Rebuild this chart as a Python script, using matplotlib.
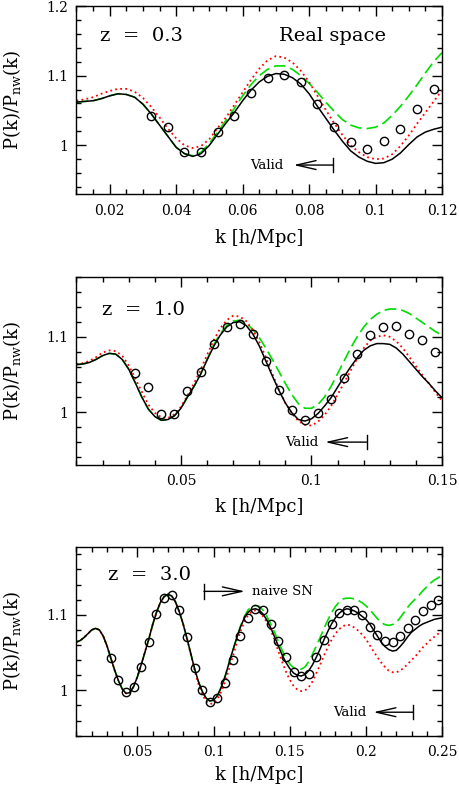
import numpy as np
import matplotlib
matplotlib.use('Agg')
import matplotlib.pyplot as plt
from matplotlib.ticker import MultipleLocator, FuncFormatter

plt.rcParams['font.family'] = ['DejaVu Serif']
plt.rcParams['mathtext.fontset'] = 'dejavuserif'

# --- panel 1: z = 0.3 (real space), curves read every 0.0025 in k ---
k_top = np.arange(0.01, 0.12001, 0.0025)
black_top = [1.062, 1.063, 1.064, 1.067, 1.071, 1.074, 1.073, 1.069,
             1.059, 1.045, 1.029, 1.013, 0.997, 0.988, 0.984, 0.988,
             1.000, 1.016, 1.032, 1.047, 1.064, 1.079, 1.091, 1.099,
             1.103, 1.102, 1.097, 1.088, 1.074, 1.056, 1.039, 1.022,
             1.006, 0.992, 0.983, 0.977, 0.974, 0.975, 0.980, 0.989,
             1.001, 1.012, 1.019, 1.023, 1.026]
red_top = [1.064, 1.066, 1.069, 1.074, 1.078, 1.081, 1.081, 1.077,
           1.068, 1.055, 1.040, 1.024, 1.010, 1.000, 0.996, 0.999,
           1.009, 1.025, 1.040, 1.058, 1.076, 1.094, 1.110, 1.122,
           1.128, 1.126, 1.119, 1.107, 1.091, 1.071, 1.051, 1.032,
           1.015, 1.000, 0.990, 0.983, 0.980, 0.981, 0.987, 0.999,
           1.014, 1.031, 1.047, 1.063, 1.079]
green_top = [1.062, 1.063, 1.064, 1.067, 1.071, 1.074, 1.073, 1.069,
             1.059, 1.045, 1.029, 1.013, 0.997, 0.988, 0.985, 0.990,
             1.003, 1.019, 1.036, 1.053, 1.071, 1.087, 1.100, 1.109,
             1.114, 1.114, 1.109, 1.100, 1.089, 1.076, 1.062, 1.049,
             1.037, 1.029, 1.025, 1.024, 1.026, 1.032, 1.043, 1.056,
             1.071, 1.087, 1.104, 1.120, 1.133]
kc_top = np.arange(0.0325, 0.1176, 0.005)
circ_top = [1.0427, 1.026, 0.9905, 0.9905, 1.019, 1.042, 1.075, 1.097, 1.1005,
            1.0905, 1.059, 1.026, 1.004, 0.994, 1.006, 1.024, 1.052, 1.081]

# --- panel 2: z = 1.0 ---
k_mid = np.arange(0.01, 0.15001, 0.0025)
black_mid = [1.063, 1.064, 1.066, 1.070, 1.075, 1.078, 1.077, 1.070,
             1.057, 1.039, 1.020, 1.004, 0.994, 0.989, 0.990, 0.995,
             1.005, 1.020, 1.034, 1.050, 1.069, 1.087, 1.102, 1.113,
             1.119, 1.120, 1.115, 1.104, 1.088, 1.068, 1.048, 1.029,
             1.012, 0.999, 0.990, 0.988, 0.991, 0.998, 1.008, 1.019,
             1.033, 1.047, 1.060, 1.072, 1.082, 1.088, 1.091, 1.091,
             1.090, 1.085, 1.077, 1.067, 1.057, 1.047, 1.038, 1.028,
             1.019]
red_mid = [1.064, 1.065, 1.068, 1.073, 1.079, 1.082, 1.081, 1.075,
           1.062, 1.045, 1.027, 1.010, 0.999, 0.993, 0.992, 0.997,
           1.007, 1.022, 1.038, 1.056, 1.076, 1.095, 1.111, 1.122,
           1.128, 1.127, 1.121, 1.109, 1.093, 1.073, 1.051, 1.030,
           1.012, 0.998, 0.988, 0.983, 0.982, 0.987, 0.996, 1.008,
           1.023, 1.039, 1.055, 1.071, 1.085, 1.095, 1.100, 1.102,
           1.100, 1.094, 1.085, 1.073, 1.061, 1.049, 1.038, 1.026,
           1.015]
green_mid = [1.063, 1.064, 1.066, 1.070, 1.075, 1.078, 1.077, 1.070,
             1.057, 1.039, 1.020, 1.004, 0.994, 0.989, 0.990, 0.995,
             1.005, 1.020, 1.034, 1.050, 1.070, 1.089, 1.104, 1.115,
             1.121, 1.122, 1.118, 1.110, 1.099, 1.085, 1.070, 1.054,
             1.038, 1.023, 1.011, 1.005, 1.005, 1.010, 1.020, 1.034,
             1.051, 1.068, 1.085, 1.100, 1.113, 1.123, 1.130, 1.135,
             1.137, 1.137, 1.135, 1.131, 1.125, 1.119, 1.113, 1.107,
             1.102]
kc_mid = np.arange(0.0325, 0.1476, 0.005)
circ_mid = [1.052, 1.0338, 0.9973, 0.9973, 1.0276, 1.0538, 1.0902, 1.1133,
            1.1169, 1.1036, 1.0676, 1.0298, 1.0022, 0.9893, 0.9987, 1.0173,
            1.0458, 1.0769, 1.1018, 1.1129, 1.1142, 1.1036, 1.0956, 1.08]

# --- panel 3: z = 3.0 ---
k_bot = np.arange(0.01, 0.25001, 0.0025)
black_bot = [1.064, 1.066, 1.070, 1.075, 1.080, 1.082, 1.080, 1.072,
             1.059, 1.043, 1.027, 1.013, 1.002, 0.996, 0.997, 1.005,
             1.018, 1.034, 1.051, 1.068, 1.087, 1.103, 1.116, 1.124,
             1.127, 1.125, 1.117, 1.104, 1.088, 1.069, 1.049, 1.029,
             1.012, 0.999, 0.990, 0.986, 0.987, 0.993, 1.004, 1.018,
             1.035, 1.052, 1.068, 1.083, 1.095, 1.103, 1.107, 1.108,
             1.106, 1.101, 1.093, 1.083, 1.071, 1.059, 1.047, 1.037,
             1.029, 1.023, 1.020, 1.019, 1.021, 1.026, 1.034, 1.044,
             1.055, 1.067, 1.078, 1.088, 1.096, 1.102, 1.106, 1.108,
             1.107, 1.105, 1.102, 1.098, 1.094, 1.088, 1.080, 1.072,
             1.064, 1.058, 1.054, 1.052, 1.053, 1.058, 1.064, 1.071,
             1.077, 1.081, 1.085, 1.088, 1.090, 1.092, 1.094, 1.095,
             1.096]
red_bot = [1.064, 1.066, 1.070, 1.075, 1.080, 1.082, 1.080, 1.072,
           1.059, 1.043, 1.027, 1.013, 1.002, 0.996, 0.997, 1.005,
           1.018, 1.034, 1.051, 1.068, 1.087, 1.103, 1.116, 1.124,
           1.127, 1.125, 1.117, 1.104, 1.088, 1.069, 1.048, 1.027,
           1.009, 0.995, 0.986, 0.982, 0.983, 0.988, 0.998, 1.011,
           1.027, 1.044, 1.061, 1.077, 1.090, 1.099, 1.104, 1.106,
           1.104, 1.098, 1.090, 1.080, 1.067, 1.052, 1.038, 1.025,
           1.014, 1.006, 1.001, 0.999, 1.000, 1.004, 1.012, 1.023,
           1.034, 1.046, 1.057, 1.067, 1.075, 1.081, 1.085, 1.087,
           1.086, 1.083, 1.079, 1.074, 1.068, 1.060, 1.052, 1.044,
           1.037, 1.031, 1.026, 1.024, 1.024, 1.026, 1.030, 1.035,
           1.040, 1.045, 1.051, 1.057, 1.062, 1.067, 1.071, 1.075,
           1.078]
green_bot = [1.064, 1.066, 1.070, 1.075, 1.080, 1.082, 1.080, 1.072,
             1.059, 1.043, 1.027, 1.013, 1.002, 0.996, 0.997, 1.005,
             1.018, 1.034, 1.051, 1.068, 1.087, 1.103, 1.116, 1.124,
             1.127, 1.125, 1.117, 1.104, 1.088, 1.069, 1.049, 1.029,
             1.012, 0.999, 0.990, 0.986, 0.987, 0.993, 1.004, 1.018,
             1.035, 1.052, 1.068, 1.084, 1.097, 1.106, 1.111, 1.112,
             1.111, 1.106, 1.098, 1.088, 1.077, 1.065, 1.053, 1.043,
             1.035, 1.030, 1.028, 1.028, 1.031, 1.038, 1.048, 1.059,
             1.070, 1.082, 1.093, 1.103, 1.111, 1.117, 1.121, 1.122,
             1.122, 1.121, 1.119, 1.116, 1.112, 1.107, 1.101, 1.095,
             1.090, 1.087, 1.086, 1.087, 1.090, 1.096, 1.103, 1.110,
             1.116, 1.121, 1.126, 1.132, 1.137, 1.142, 1.146, 1.149,
             1.152]
kc_bot = np.arange(0.0325, 0.2476, 0.005)
circ_bot = [1.0427, 1.0138, 0.9982, 1.0049, 1.0311, 1.0636, 1.1004, 1.1222,
            1.1258, 1.1067, 1.0702, 1.0302, 1.0004, 0.9849, 0.9902, 1.0102,
            1.040, 1.0716, 1.0956, 1.1071, 1.1058, 1.088, 1.0658, 1.0436,
            1.0244, 1.0191, 1.0213, 1.0436, 1.0667, 1.088, 1.1022, 1.1067,
            1.1067, 1.100, 1.0836, 1.0733, 1.0649, 1.0636, 1.0716, 1.0831,
            1.0933, 1.1044, 1.1124, 1.1191]

GREEN = '#00dd00'
RED = '#ff0000'


def draw_panel(ax, k, black, red, green, kc, circ, xlim, ylim, xmajor, xminor):
    ax.plot(k, green, color=GREEN, lw=1.2, dashes=(7, 3), zorder=2)
    ax.plot(k, red, color=RED, lw=1.3, dashes=(1, 1.8), zorder=2)
    ax.plot(k, black, color='black', lw=1.1, zorder=3)
    ax.plot(kc, circ, 'o', mfc='none', mec='black', ms=6, mew=1.0, zorder=4)

    ax.set_xlim(*xlim)
    ax.set_ylim(*ylim)
    ax.xaxis.set_major_locator(MultipleLocator(xmajor))
    ax.xaxis.set_minor_locator(MultipleLocator(xminor))
    ax.yaxis.set_major_locator(MultipleLocator(0.1))
    ax.yaxis.set_minor_locator(MultipleLocator(0.02))
    fmt = FuncFormatter(lambda v, p: '%g' % round(v, 4))
    ax.xaxis.set_major_formatter(fmt)
    ax.yaxis.set_major_formatter(fmt)
    ax.tick_params(which='both', direction='in', top=True, right=True,
                   width=1, labelsize=10)
    ax.tick_params(which='major', length=7)
    ax.tick_params(which='minor', length=3.5)
    ax.tick_params(axis='x', pad=7)
    ax.tick_params(axis='y', pad=6)
    for s in ax.spines.values():
        s.set_linewidth(1.0)


def range_arrow(ax, bar, tip, y, label=None, label_x=None, ha='right'):
    # vertical bar + open arrow, like "Valid <--|"
    ax.annotate('', xy=(tip, y), xytext=(bar, y),
                arrowprops=dict(arrowstyle='->,head_length=1.4,head_width=0.32',
                                lw=1.0, color='black', shrinkA=0, shrinkB=0,
                                mutation_scale=10))
    ax.plot([bar, bar], [y - 0.0095, y + 0.0095], color='black', lw=1.0)
    if label:
        ax.text(label_x, y, label, ha=ha, va='center', fontsize=9.5)


def main():
    fig = plt.figure(figsize=(4.6, 7.9), dpi=100)
    left, width = 0.1663, 0.7946
    ax1 = fig.add_axes([left, 0.7544, width, 0.2380])
    ax2 = fig.add_axes([left, 0.4118, width, 0.2380])
    ax3 = fig.add_axes([left, 0.0687, width, 0.2392])

    draw_panel(ax1, k_top, black_top, red_top, green_top, kc_top, circ_top,
               (0.01, 0.12), (0.93, 1.2), 0.02, 0.005)
    draw_panel(ax2, k_mid, black_mid, red_mid, green_mid, kc_mid, circ_mid,
               (0.01, 0.15), (0.93, 1.18), 0.05, 0.01)
    draw_panel(ax3, k_bot, black_bot, red_bot, green_bot, kc_bot, circ_bot,
               (0.01, 0.25), (0.94, 1.19), 0.05, 0.01)

    ax1.text(0.0171, 1.157, 'z  =  0.3', fontsize=14, va='center')
    ax1.text(0.087, 1.157, 'Real space', fontsize=14, va='center', ha='center')
    ax2.text(0.0196, 1.136, 'z  =  1.0', fontsize=14, va='center')
    ax3.text(0.0309, 1.152, 'z  =  3.0', fontsize=14, va='center')

    range_arrow(ax1, 0.0873, 0.0753, 0.9716, 'Valid', 0.0723)
    range_arrow(ax2, 0.1211, 0.1052, 0.960, 'Valid', 0.1026)
    range_arrow(ax3, 0.2311, 0.2049, 0.9711, 'Valid', 0.2005)
    range_arrow(ax3, 0.0937, 0.1206, 1.131, 'naive SN', 0.125, ha='left')

    ylab = r'P(k)/P$_{\rm nw}$(k)'
    for yc in (0.8734, 0.5308, 0.1886):
        fig.text(12 / 460, yc, ylab, rotation=90, ha='center', va='center',
                 fontsize=13)
    for yc in (238, 507, 775):
        fig.text(259 / 460, 1 - yc / 790, 'k [h/Mpc]', ha='center',
                 va='center', fontsize=13)

    fig.savefig('out.png', dpi=100)


if __name__ == '__main__':
    main()
